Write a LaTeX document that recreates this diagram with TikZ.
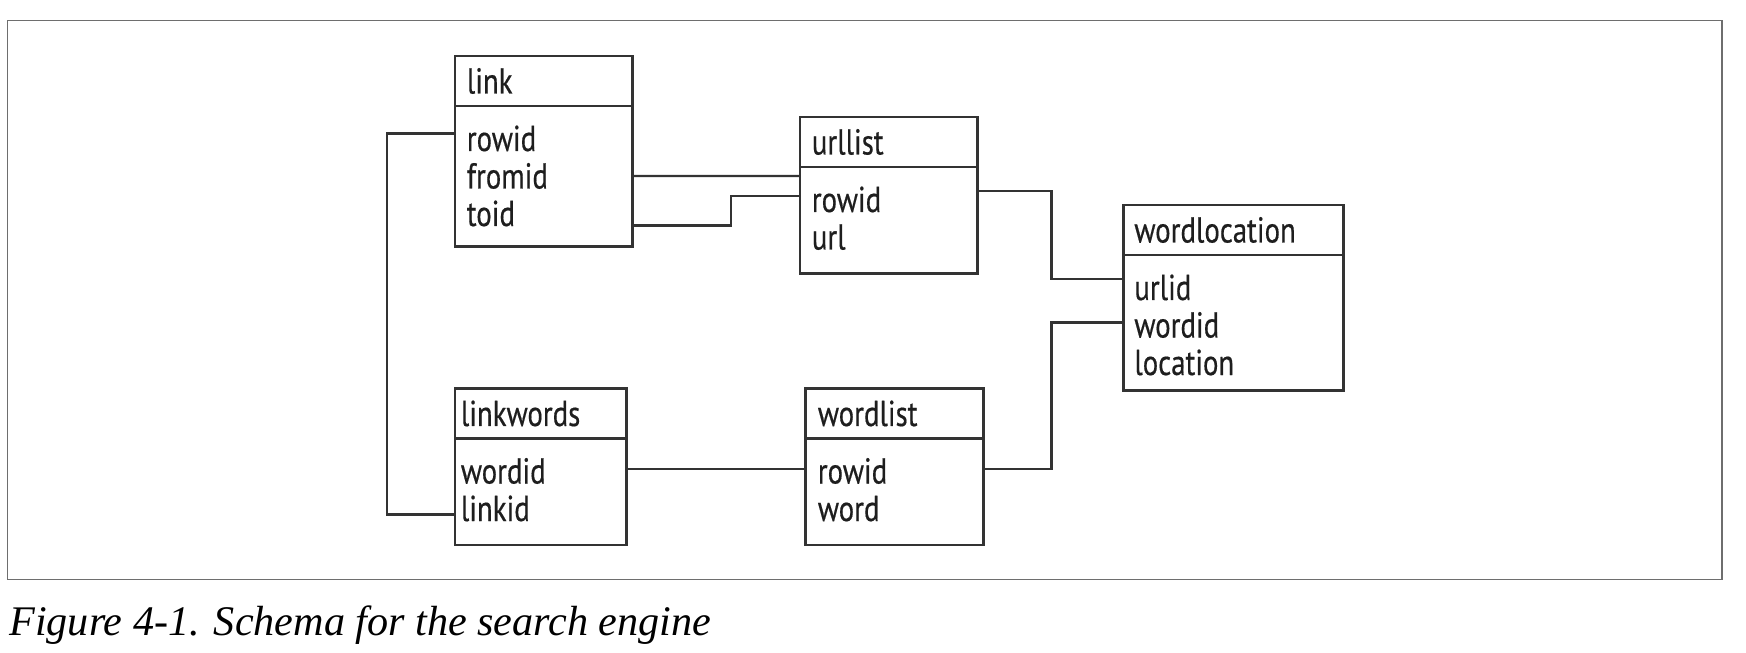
\documentclass[tikz,border=0pt]{standalone}
\usepackage{fontspec}
\setsansfont{PT Sans}[FakeStretch=0.8, FakeBold=0.4]
\newfontfamily\capfont{Liberation Serif}
\usepackage{xcolor}
\usepackage{tikz}
\definecolor{boxgray}{HTML}{333333}
\definecolor{textgray}{HTML}{1E1E1E}
\definecolor{framegray}{HTML}{6E6E6E}

\begin{document}
\begin{tikzpicture}[
    hd/.style={draw=boxgray, line width=1.5pt, anchor=north west, minimum height=1cm, inner sep=0pt, outer sep=0pt},
    bd/.style={draw=boxgray, line width=1.5pt, anchor=north west, inner sep=0pt, outer sep=0pt},
    tname/.style={anchor=base west, inner sep=0pt, text=textgray, font=\sffamily\fontsize{20.5}{24}\selectfont},
    field/.style={tname},
    conn/.style={draw=boxgray, line width=1.4pt}
]
    \useasboundingbox (0,0) rectangle (34.92,13.04);
    \draw[framegray, line width=1.1pt] (0.15,1.45) rectangle (34.44,12.63);

    % Table link
    \node[hd, minimum width=3.55cm] (link) at (9.10,11.92) {};
    \node[bd, minimum width=3.55cm, minimum height=2.81cm] (link-f) at (link.south west) {};
    \node[tname] (link-t) at (9.33,11.17) {link};
    \foreach \f [count=\i] in {rowid,fromid,toid} {
        \node[field] (link-\f) at (9.33, 10.77-\i*0.75) {\f};
    }

    % Table urllist
    \node[hd, minimum width=3.55cm] (urllist) at (16.00,10.70) {};
    \node[bd, minimum width=3.55cm, minimum height=2.13cm] (urllist-f) at (urllist.south west) {};
    \node[tname] (urllist-t) at (16.23,9.95) {urllist};
    \foreach \f [count=\i] in {rowid,url} {
        \node[field] (urllist-\f) at (16.23, 9.55-\i*0.75) {\f};
    }

    % Table wordlocation
    \node[hd, minimum width=4.40cm] (wordlocation) at (22.47,8.94) {};
    \node[bd, minimum width=4.40cm, minimum height=2.71cm] (wordlocation-f) at (wordlocation.south west) {};
    \node[tname] (wordlocation-t) at (22.68,8.19) {wordlocation};
    \foreach \f [count=\i] in {urlid,wordid,location} {
        \node[field] (wordlocation-\f) at (22.68, 7.79-\i*0.75) {\f};
    }

    % Table linkwords
    \node[hd, minimum width=3.43cm] (linkwords) at (9.10,5.27) {};
    \node[bd, minimum width=3.43cm, minimum height=2.13cm] (linkwords-f) at (linkwords.south west) {};
    \node[tname] (linkwords-t) at (9.21,4.52) {linkwords};
    \foreach \f [count=\i] in {wordid,linkid} {
        \node[field] (linkwords-\f) at (9.21, 4.12-\i*0.75) {\f};
    }

    % Table wordlist
    \node[hd, minimum width=3.56cm] (wordlist) at (16.11,5.27) {};
    \node[bd, minimum width=3.56cm, minimum height=2.13cm] (wordlist-f) at (wordlist.south west) {};
    \node[tname] (wordlist-t) at (16.35,4.52) {wordlist};
    \foreach \f [count=\i] in {rowid,word} {
        \node[field] (wordlist-\f) at (16.35, 4.12-\i*0.75) {\f};
    }

    % Connections
    \draw[conn] ([yshift=-0.55cm]link-f.north west) -- ++(-1.36,0) |- ([yshift=-1.52cm]linkwords-f.north west);
    \draw[conn] ([yshift=-1.40cm]link-f.north east) -- ([yshift=-0.18cm]urllist-f.north west);
    \draw[conn] ([yshift=-2.39cm]link-f.north east) -- ++(1.97,0) |- ([yshift=-0.58cm]urllist-f.north west);
    \draw[conn] ([yshift=-0.48cm]urllist-f.north east) -- ++(1.48,0) |- ([yshift=-0.48cm]wordlocation-f.north west);
    \draw[conn] ([yshift=-0.61cm]wordlist-f.north east) -- ++(1.36,0) |- ([yshift=-1.35cm]wordlocation-f.north west);
    \draw[conn] ([yshift=-0.61cm]linkwords-f.north east) -- ([yshift=-0.61cm]wordlist-f.north west);

    % Caption
    \node[anchor=base west, inner sep=0pt, font=\capfont\itshape\fontsize{24}{28}\selectfont] (caption) at (0.18,0.34) {Figure 4-1. Schema for the search engine};
\end{tikzpicture}
\end{document}
